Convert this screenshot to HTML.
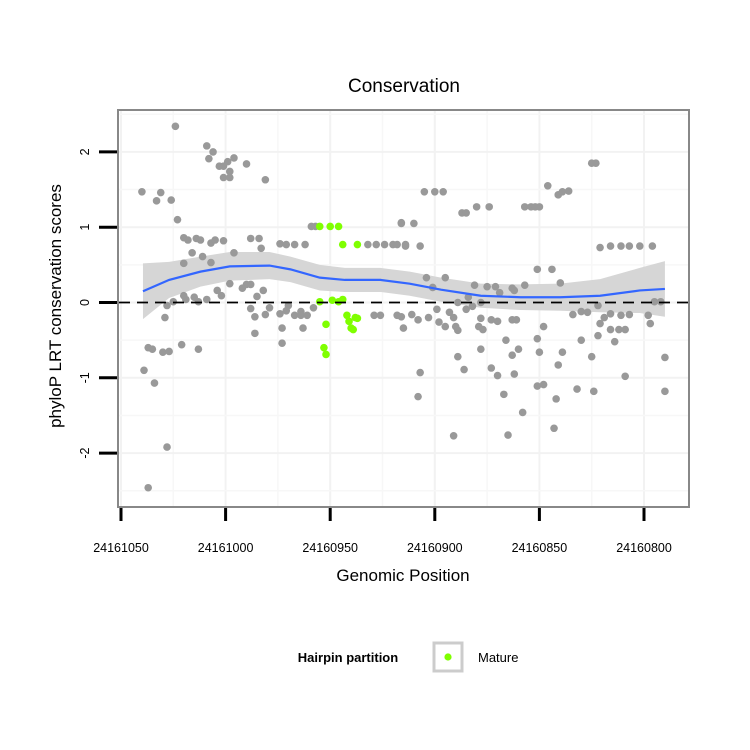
<!DOCTYPE html>
<html><head><meta charset="utf-8"><style>
body{margin:0;background:#fff}
svg{display:block;font-family:"Liberation Sans",sans-serif}
</style></head><body>
<svg id="chart" width="750" height="750">
<text x="404" y="92" font-size="19" text-anchor="middle">Conservation</text>
</svg>
<script>
const grayPos=[26,41,44,42,47,51,54,49,52,49,52,60,69,10,19,17,24,27,30,32,36,38,34,39,43,45,43,49,66,62,67,54,30,60,48,62,52,58,68,65,46,35,30,25,31,22,41,37,62,69,76,71,79,83,86,80,87,64,77,21,64,13,15,20,23,29,37,77,11,16,22,13,91,93,134,76,79,83,88,118,122,126,130,132,136,121,124,86,89,92,135,132,
225,227,145,150,154,204,209,211,214,163,165,170,176,193,196,198,200,134,140,136,143,229,234,239,243,248,254,199,206,210,146,149,155,169,175,179,187,193,188,181,166,172,168,161,255,258,
134,139,142,147,151,152,157,159,160,155,161,165,172,171,177,180,187,173,184,189,202,199,216,220,223,228,229,231,234,239,243,252,253,228,234,238,241,236,220,172,190,187,200,143,188,161,164,177,180,211,209,225,226,218,199,142,202,208,183,192,207,185,159,260,260,241];
const grayScore=[2.34,2.08,2.00,1.91,1.81,1.87,1.92,1.81,1.74,1.66,1.66,1.84,1.63,1.47,1.46,1.35,1.36,1.10,0.86,0.83,0.85,0.83,0.66,0.61,0.79,0.83,0.53,0.82,0.85,0.85,0.72,0.66,0.52,0.24,0.09,0.24,0.25,0.19,0.16,0.08,0.16,0.07,0.09,0.01,0.04,-0.04,0.04,0.01,-0.08,-0.16,-0.15,-0.07,-0.11,-0.17,-0.12,-0.04,-0.34,-0.41,-0.34,-0.20,-0.19,-0.60,-0.62,-0.66,-0.65,-0.56,-0.62,-0.54,-0.90,-1.07,-1.92,-2.46,1.01,1.01,1.06,0.78,0.77,0.77,0.77,0.77,0.77,0.77,0.77,0.77,0.77,-0.17,-0.17,-0.17,-0.17,-0.07,-0.34,-0.17,
1.85,1.85,1.47,1.47,1.47,1.55,1.43,1.47,1.48,1.19,1.19,1.27,1.27,1.27,1.27,1.27,1.27,1.05,1.05,0.75,0.75,0.73,0.75,0.75,0.75,0.75,0.75,0.44,0.44,0.26,0.33,0.20,0.33,0.23,0.21,0.21,0.19,0.23,0.16,0.13,0.07,0,-0.05,0,0.01,0.01,
-0.19,-0.16,-0.23,-0.2,-0.09,-0.26,-0.13,-0.2,-0.32,-0.32,-0.37,-0.09,-0.21,-0.32,-0.23,-0.25,-0.23,-0.36,-0.5,-0.23,-0.32,-0.48,-0.16,-0.12,-0.13,-0.04,-0.28,-0.2,-0.15,-0.17,-0.16,-0.17,-0.28,-0.44,-0.36,-0.36,-0.36,-0.52,-0.5,-0.62,-0.62,-0.7,-0.66,-0.93,-0.95,-0.72,-0.89,-0.87,-0.97,-0.66,-0.83,-0.72,-1.18,-1.15,-1.11,-1.25,-1.09,-1.28,-1.22,-1.46,-1.67,-1.76,-1.77,-1.18,-0.73,-0.98];
const maturePos=[95,100,104,106,113,95,101,104,106,98,108,109,112,113,110,111,97,98];
const matureScore=[1.01,1.01,1.01,0.77,0.77,0.01,0.03,0.01,0.04,-0.29,-0.17,-0.25,-0.2,-0.21,-0.34,-0.36,-0.6,-0.69];
const fitPos=[10.5,23,38,52,71,81,95,107,124,138,153,172,191,210,229,248,260];
const fitVal=[0.15,0.30,0.41,0.48,0.49,0.44,0.33,0.30,0.30,0.25,0.17,0.09,0.07,0.07,0.09,0.16,0.18];
const fitSe=[0.37,0.24,0.2,0.19,0.18,0.17,0.17,0.16,0.16,0.16,0.16,0.16,0.17,0.18,0.22,0.3,0.37];
const xTicks=[24161050,24161000,24160950,24160900,24160850,24160800];
const yTicks=[-2,-1,0,1,2];
const BASE=24161050;
const NS="http://www.w3.org/2000/svg";
const svg=document.getElementById('chart');
const X=p=>121+(BASE-p)*2.092;
const Y=v=>302.5-v*75.3;
function mk(t,a,parent){const e=document.createElementNS(NS,t);for(const k in a)e.setAttribute(k,a[k]);(parent||svg).appendChild(e);return e;}
const panel=mk('rect',{x:118,y:110,width:571,height:397,fill:'#fff',stroke:'#888','stroke-width':2});


const grid=mk('g',{});


for(let i=0;i<xTicks.length;i++){
  const x=X(xTicks[i]);
  mk('line',{x1:x,x2:x,y1:111,y2:506,stroke:'#f2f2f2','stroke-width':2},grid);
  const xm=X(xTicks[i]-25);
  if(xm<688) mk('line',{x1:xm,x2:xm,y1:111,y2:506,stroke:'#f7f7f7','stroke-width':1.5},grid);
}
for(let v=-2.5;v<=2.5;v+=0.5){const y=Y(v);if(y>111&&y<506)mk('line',{x1:119,x2:688,y1:y,y2:y,stroke:Number.isInteger(v)?'#f2f2f2':'#f7f7f7','stroke-width':Number.isInteger(v)?2:1.5},grid);}
let up='',lo='';
for(let i=0;i<fitPos.length;i++){up+=(i?'L':'M')+X(BASE-fitPos[i])+','+Y(fitVal[i]+fitSe[i]);}
for(let i=fitPos.length-1;i>=0;i--){lo+='L'+X(BASE-fitPos[i])+','+Y(fitVal[i]-fitSe[i]);}
const rib=mk('path',{d:up+lo+'Z',fill:'#d6d6d6'});


const g=mk('g',{});


for(let i=0;i<grayPos.length;i++){
  const c=mk('circle',{cx:X(BASE-grayPos[i]),cy:Y(grayScore[i]),r:3.8,fill:'#999'},g);
  
  
}
const gm=mk('g',{});


for(let i=0;i<maturePos.length;i++){
  const c=mk('circle',{cx:X(BASE-maturePos[i]),cy:Y(matureScore[i]),r:3.8,fill:'#7fff00'},gm);
  
  
}
let d='';
for(let i=0;i<fitPos.length;i++){d+=(i?'L':'M')+X(BASE-fitPos[i])+','+Y(fitVal[i]);}
const fl=mk('path',{d:d,fill:'none',stroke:'#3366ff','stroke-width':2.2});


const zl=mk('line',{x1:119,x2:688,y1:Y(0),y2:Y(0),stroke:'#000','stroke-width':1.8,'stroke-dasharray':'11,7'});


for(let i=0;i<xTicks.length;i++){
  const x=X(xTicks[i]);
  const t=mk('line',{x1:x,x2:x,y1:508,y2:521,stroke:'#000','stroke-width':3});
  
  
  const l=mk('text',{x:x,y:552,'font-size':12.5,'text-anchor':'middle'});
  l.textContent=xTicks[i];
  
  
}
for(let i=0;i<yTicks.length;i++){
  const y=Y(yTicks[i]);
  const t=mk('line',{x1:99,x2:117,y1:y,y2:y,stroke:'#000','stroke-width':3});
  
  
  const l=mk('text',{x:0,y:0,'font-size':12.5,'text-anchor':'middle',transform:`translate(89,${y}) rotate(-90)`});
  l.textContent=yTicks[i];
  
  
}
</script>
<div style="position:absolute;left:0;top:0;width:750px;height:750px;pointer-events:none">
<svg width="750" height="750" style="position:absolute;left:0;top:0">
<text x="403" y="581" font-size="17" text-anchor="middle">Genomic Position</text>
<text transform="translate(61,306) rotate(-90)" font-size="17" text-anchor="middle">phyloP LRT conservation scores</text>
<text x="348" y="662" font-size="13" font-weight="bold" text-anchor="middle">Hairpin partition</text>
<rect x="434" y="643" width="28" height="28" fill="#fff" stroke="#ccc" stroke-width="3"/>
<circle cx="448" cy="657" r="3.6" fill="#7fff00"/>
<text x="478" y="662" font-size="13">Mature</text>
</svg></div>
</body></html>
